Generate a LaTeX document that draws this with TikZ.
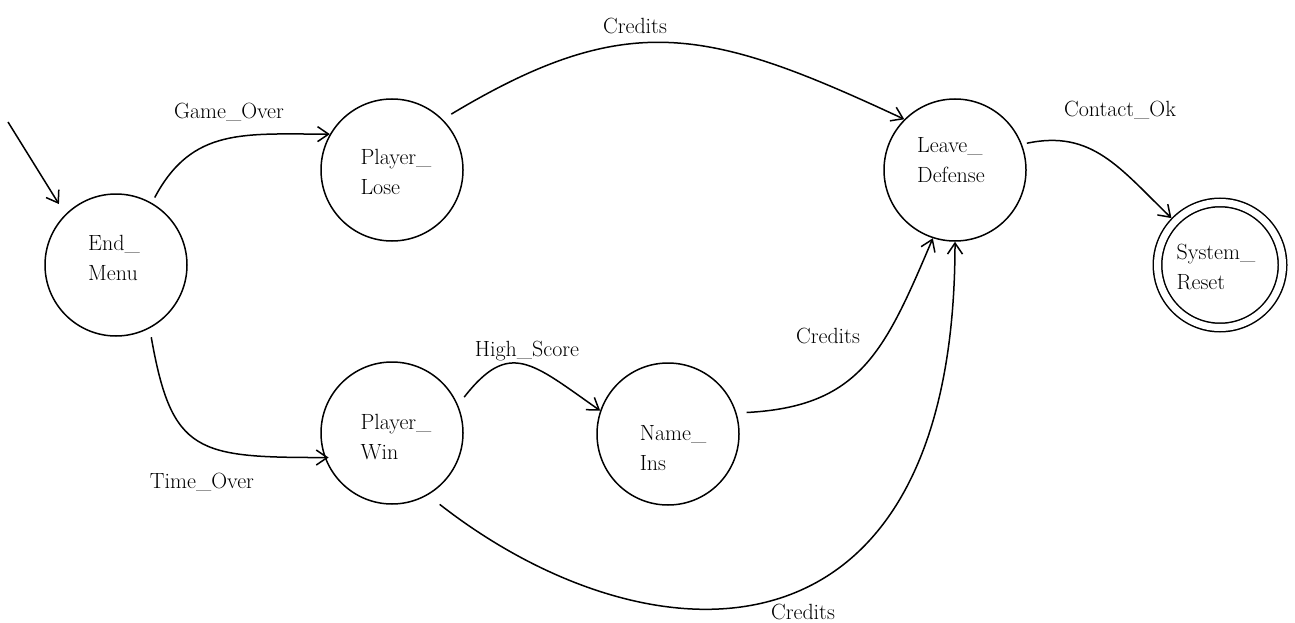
\documentclass[tikz,border=0pt]{standalone}
\usetikzlibrary{arrows.meta}
\newcommand\dgfont{\fontsize{22}{30}\selectfont}
\begin{document}
\begin{tikzpicture}[x=1pt,y=1pt,
  state/.style={circle, draw, line width=1.5pt, minimum size=142pt, inner sep=0pt},
  finalstate/.style={circle, draw, line width=1.5pt, double, double distance=7pt,
                     minimum size=125pt, inner sep=0pt, outer sep=5pt},
  statetext/.style={align=left, font=\dgfont, inner sep=0pt},
  lbl/.style={font=\dgfont, inner sep=0pt},
  trans/.style={line width=1.5pt, -{Straight Barb[length=11pt,width=15pt]}}]
  \useasboundingbox (0,0) rectangle (1295,-623);

  % states
  \node[state] (em) at (116,-265) {};
  \node[state] (pl) at (392,-170) {};
  \node[state] (pw) at (392,-433) {};
  \node[state] (ni) at (668,-434) {};
  \node[state] (ld) at (955,-170) {};
  \node[finalstate] (sr) at (1220,-265) {};

  % state names
  \node[statetext] (em-t) at (114,-258) {End\_\\Menu};
  \node[statetext] (pl-t) at (396,-172) {Player\_\\Lose};
  \node[statetext] (pw-t) at (396,-437) {Player\_\\Win};
  \node[statetext] (ni-t) at (673,-448) {Name\_\\Ins};
  \node[statetext] (ld-t) at (951,-160) {Leave\_\\Defense};
  \node[statetext] (sr-t) at (1216,-267) {System\_\\Reset};

  % initial arrow
  \coordinate (init) at (8,-122);
  \draw[trans, shorten >=12pt] (init) -- (em.135);

  % transitions
  \draw[trans, shorten <=6pt] (em.60) to[out=62,in=180,looseness=1.15] (pl.150);
  \draw[trans, shorten <=9pt, shorten >=-4pt] (em.-62) to[out=-80,in=180,looseness=1.5] (pw.-160);
  \draw[trans, shorten <=10pt] (pl.45) to[out=31,in=155,looseness=1.2] (ld.135);
  \draw[trans, shorten <=5pt] (ld.21) to[out=12,in=136,looseness=1.1] (sr.136);
  \draw[trans, shorten <=10pt] (pw.23) to[out=52,in=145,looseness=1.5] (ni.161);
  \draw[trans, shorten <=10pt] (ni.17) to[out=3,in=-113,looseness=1.2] (ld.-108);
  \draw[trans, shorten <=15pt] (pw.-60) to[out=-38,in=-90,out distance=280pt,in distance=440pt] (ld.-90);

  % transition labels
  \node[lbl] (l-go) at (229,-112) {Game\_Over};
  \node[lbl] (l-to) at (202,-482) {Time\_Over};
  \node[lbl] (l-c1) at (635,-26) {Credits};
  \node[lbl] (l-co) at (1120,-110) {Contact\_Ok};
  \node[lbl] (l-hs) at (527,-351) {High\_Score};
  \node[lbl] (l-c2) at (828,-336) {Credits};
  \node[lbl] (l-c3) at (803,-612) {Credits};
\end{tikzpicture}
\end{document}
